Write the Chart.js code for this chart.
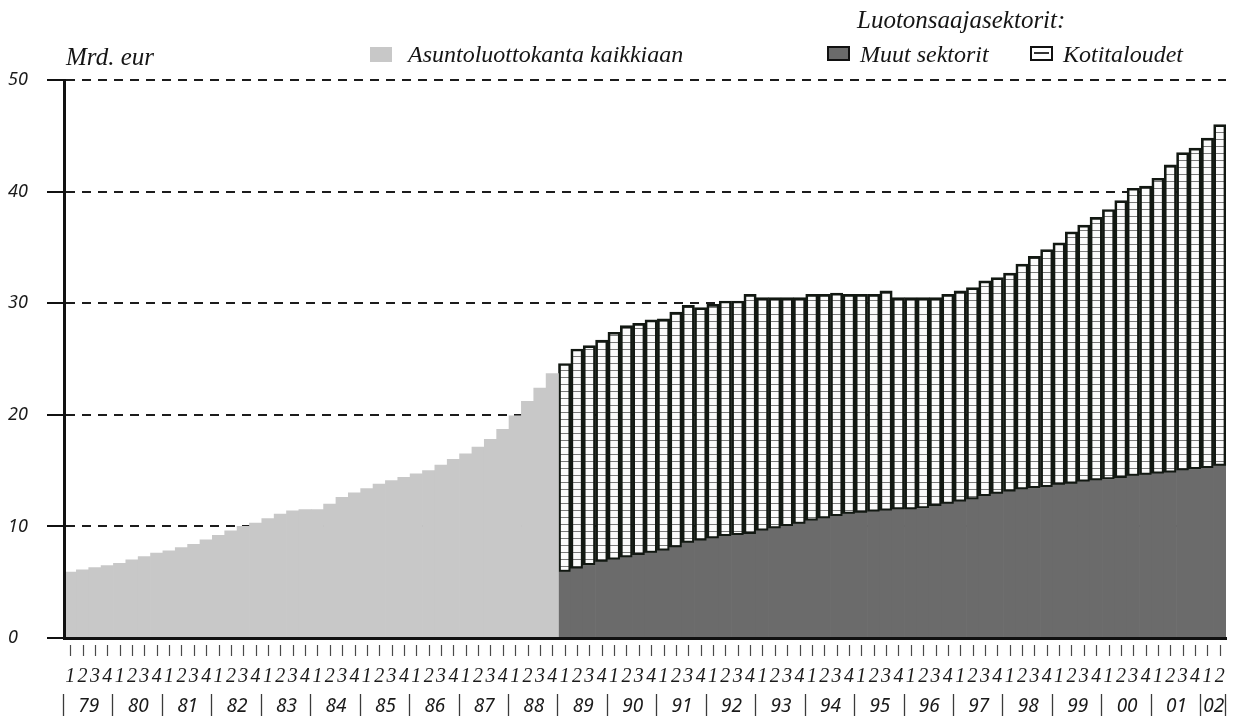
<!DOCTYPE html>
<html><head><meta charset="utf-8">
<script src="https://cdn.jsdelivr.net/npm/chart.js@4.4.1/dist/chart.umd.min.js"></script>
<style>
html,body{margin:0;padding:0;background:#fff;}
#wrap{position:relative;width:1233px;height:717px;overflow:hidden;background:#fff;}
canvas{position:absolute;left:0;top:0;}
.t{position:absolute;font-family:"Liberation Serif","Times New Roman",serif;font-style:italic;font-size:24px;color:#151515;white-space:nowrap;line-height:1;}
.sw{position:absolute;box-sizing:border-box;}
</style></head><body>
<div id="wrap">
<canvas id="c" width="1233" height="717"></canvas>
<div class="t" style="left:66px;top:44px;font-size:25px;">Mrd. eur</div>
<div class="sw" style="left:370px;top:47px;width:22px;height:15px;background:#c8c8c8;"></div>
<div class="t" style="left:408px;top:42px;">Asuntoluottokanta kaikkiaan</div>
<div class="t" style="left:857px;top:7px;font-size:25px;">Luotonsaajasektorit:</div>
<div class="sw" style="left:827px;top:46px;width:23px;height:15px;background:#6b6b6b;border:2px solid #111;"></div>
<div class="t" style="left:860px;top:42px;">Muut sektorit</div>
<div class="sw" style="left:1030px;top:46px;width:23px;height:15px;background:#fff;border:2px solid #111;"><div style="position:absolute;left:2px;right:2px;top:4px;height:2px;background:#333;"></div></div>
<div class="t" style="left:1063px;top:42px;">Kotitaloudet</div>
</div>
<script>
// Years shown on the x axis (1979 Q1 – 2002 Q2)
const years = ['79','80','81','82','83','84','85','86','87','88','89','90','91','92','93','94','95','96','97','98','99','00','01','02'];
const quarterDigits = ['1','2','3','4'];
const quartersInLastYear = 2;

// Asuntoluottokanta kaikkiaan, 1979Q1–1988Q4 (Mrd. eur)
const totalBefore1989 = [
  5.9, 6.1, 6.3, 6.5,
  6.7, 7.0, 7.3, 7.6,
  7.8, 8.1, 8.4, 8.8,
  9.2, 9.6, 10.0, 10.3,
  10.7, 11.1, 11.4, 11.5,
  11.5, 12.0, 12.6, 13.0,
  13.4, 13.8, 14.1, 14.4,
  14.7, 15.0, 15.5, 16.0,
  16.5, 17.1, 17.8, 18.7,
  19.9, 21.2, 22.4, 23.7
];

// Muut sektorit, 1989Q1–2002Q2
const muutSektorit = [
  5.9, 6.2, 6.5, 6.8,
  7.0, 7.2, 7.4, 7.6,
  7.8, 8.1, 8.5, 8.7,
  8.9, 9.1, 9.2, 9.3,
  9.6, 9.8, 10.0, 10.2,
  10.5, 10.7, 10.9, 11.1,
  11.2, 11.3, 11.4, 11.5,
  11.5, 11.6, 11.8, 12.0,
  12.2, 12.4, 12.7, 12.9,
  13.1, 13.3, 13.4, 13.5,
  13.7, 13.8, 14.0, 14.1,
  14.2, 14.3, 14.5, 14.6,
  14.7, 14.8, 15.0, 15.1,
  15.2, 15.4
];

// Kotitaloudet, 1989Q1–2002Q2
const kotitaloudet = [
  18.7, 19.7, 19.7, 19.9,
  20.4, 20.8, 20.8, 20.9,
  20.8, 21.1, 21.3, 20.9,
  21.0, 21.1, 21.0, 21.5,
  20.9, 20.7, 20.5, 20.3,
  20.3, 20.1, 20.0, 19.7,
  19.6, 19.5, 19.7, 19.0,
  19.0, 18.9, 18.7, 18.8,
  18.9, 19.0, 19.3, 19.4,
  19.6, 20.2, 20.8, 21.3,
  21.7, 22.6, 23.0, 23.6,
  24.2, 24.9, 25.8, 25.9,
  26.5, 27.6, 28.5, 28.8,
  29.6, 30.6
];

const quarterLabels = [];
const yearSpans = [];
years.forEach((y, i) => {
  const n = i === years.length - 1 ? quartersInLastYear : quarterDigits.length;
  yearSpans.push({label: y, start: quarterLabels.length, count: n});
  for (let q = 0; q < n; q++) quarterLabels.push(quarterDigits[q]);
});

const nPre = totalBefore1989.length;
const nPost = muutSektorit.length;
const blanks = n => Array(n).fill(null);

function hatchPattern() {
  const c = document.createElement('canvas');
  c.width = 8; c.height = 7;
  const g = c.getContext('2d');
  g.fillStyle = '#fbfbfb'; g.fillRect(0, 0, 8, 7);
  g.fillStyle = '#7a7a7a'; g.fillRect(0, 6, 8, 1);
  return g.createPattern(c, 'repeat');
}

const xDecor = {
  id: 'xDecor',
  afterDraw(chart) {
    const ctx = chart.ctx;
    const x = chart.scales.x;
    const top = x.top;
    ctx.save();
    ctx.strokeStyle = '#4a4a4a';
    ctx.lineWidth = 1.2;
    for (let i = 0; i < quarterLabels.length; i++) {
      const px = Math.round(x.getPixelForValue(i)) + 0.5;
      ctx.beginPath(); ctx.moveTo(px, top + 7); ctx.lineTo(px, top + 18); ctx.stroke();
    }
    ctx.strokeStyle = '#3a3a3a';
    ctx.lineWidth = 1.3;
    const seps = yearSpans.map(s => s.start - 0.5).concat([quarterLabels.length - 0.5]);
    seps.forEach(v => {
      const px = Math.round(x.getPixelForValue(v)) - 0.5;
      ctx.beginPath(); ctx.moveTo(px, top + 56); ctx.lineTo(px, top + 78); ctx.stroke();
    });
    ctx.fillStyle = '#1a1a1a';
    ctx.font = 'italic 19px "Noto Sans", "DejaVu Sans", sans-serif';
    ctx.textAlign = 'center';
    ctx.textBaseline = 'middle';
    yearSpans.forEach(s => {
      ctx.fillText(s.label, x.getPixelForValue(s.start + (s.count - 1) / 2), top + 69);
    });
    ctx.restore();
  }
};

new Chart(document.getElementById('c'), {
  type: 'bar',
  data: {
    labels: quarterLabels,
    datasets: [
      { label: 'Asuntoluottokanta kaikkiaan', data: totalBefore1989.concat(blanks(nPost)),
        backgroundColor: '#c8c8c8', borderWidth: 0, stack: 's' },
      { label: 'Muut sektorit', data: blanks(nPre).concat(muutSektorit),
        backgroundColor: '#6b6b6b', borderWidth: 0, stack: 's' },
      { label: 'Kotitaloudet', data: blanks(nPre).concat(kotitaloudet),
        backgroundColor: hatchPattern(), borderColor: '#121812', borderWidth: 2.7,
        borderSkipped: false, stack: 's' }
    ]
  },
  options: {
    responsive: false,
    animation: false,
    layout: { padding: { left: 8, right: 7, top: 80, bottom: 0 } },
    plugins: { legend: { display: false }, tooltip: { enabled: false } },
    datasets: { bar: { categoryPercentage: 1, barPercentage: 1 } },
    scales: {
      x: {
        stacked: true,
        grid: { display: true, drawOnChartArea: false, drawTicks: true, tickLength: 27,
          tickColor: 'rgba(0,0,0,0)', color: 'rgba(0,0,0,0)' },
        border: { display: true, color: '#111', width: 3, z: 1 },
        ticks: { autoSkip: false, maxRotation: 0, minRotation: 0, padding: 0, color: '#1a1a1a',
          font: { family: '"Liberation Serif", serif', size: 20, style: 'italic' } },
        afterFit(s) { s.height = 79; }
      },
      y: {
        stacked: true, min: 0, max: 50,
        ticks: { stepSize: 10, crossAlign: 'far', color: '#1a1a1a', padding: 4,
          font: { family: '"Noto Sans", sans-serif', size: 18, style: 'italic' } },
        grid: { color: '#1c1c1c', lineWidth: 2, tickLength: 17, tickColor: '#111', tickWidth: 2,
          tickBorderDash: [], borderDash: [9, 7] },
        border: { display: true, color: '#111', width: 3, dash: [9, 7], z: 1 },
        afterFit(s) { s.width = 56; }
      }
    }
  },
  plugins: [xDecor]
});
</script>
</body></html>
